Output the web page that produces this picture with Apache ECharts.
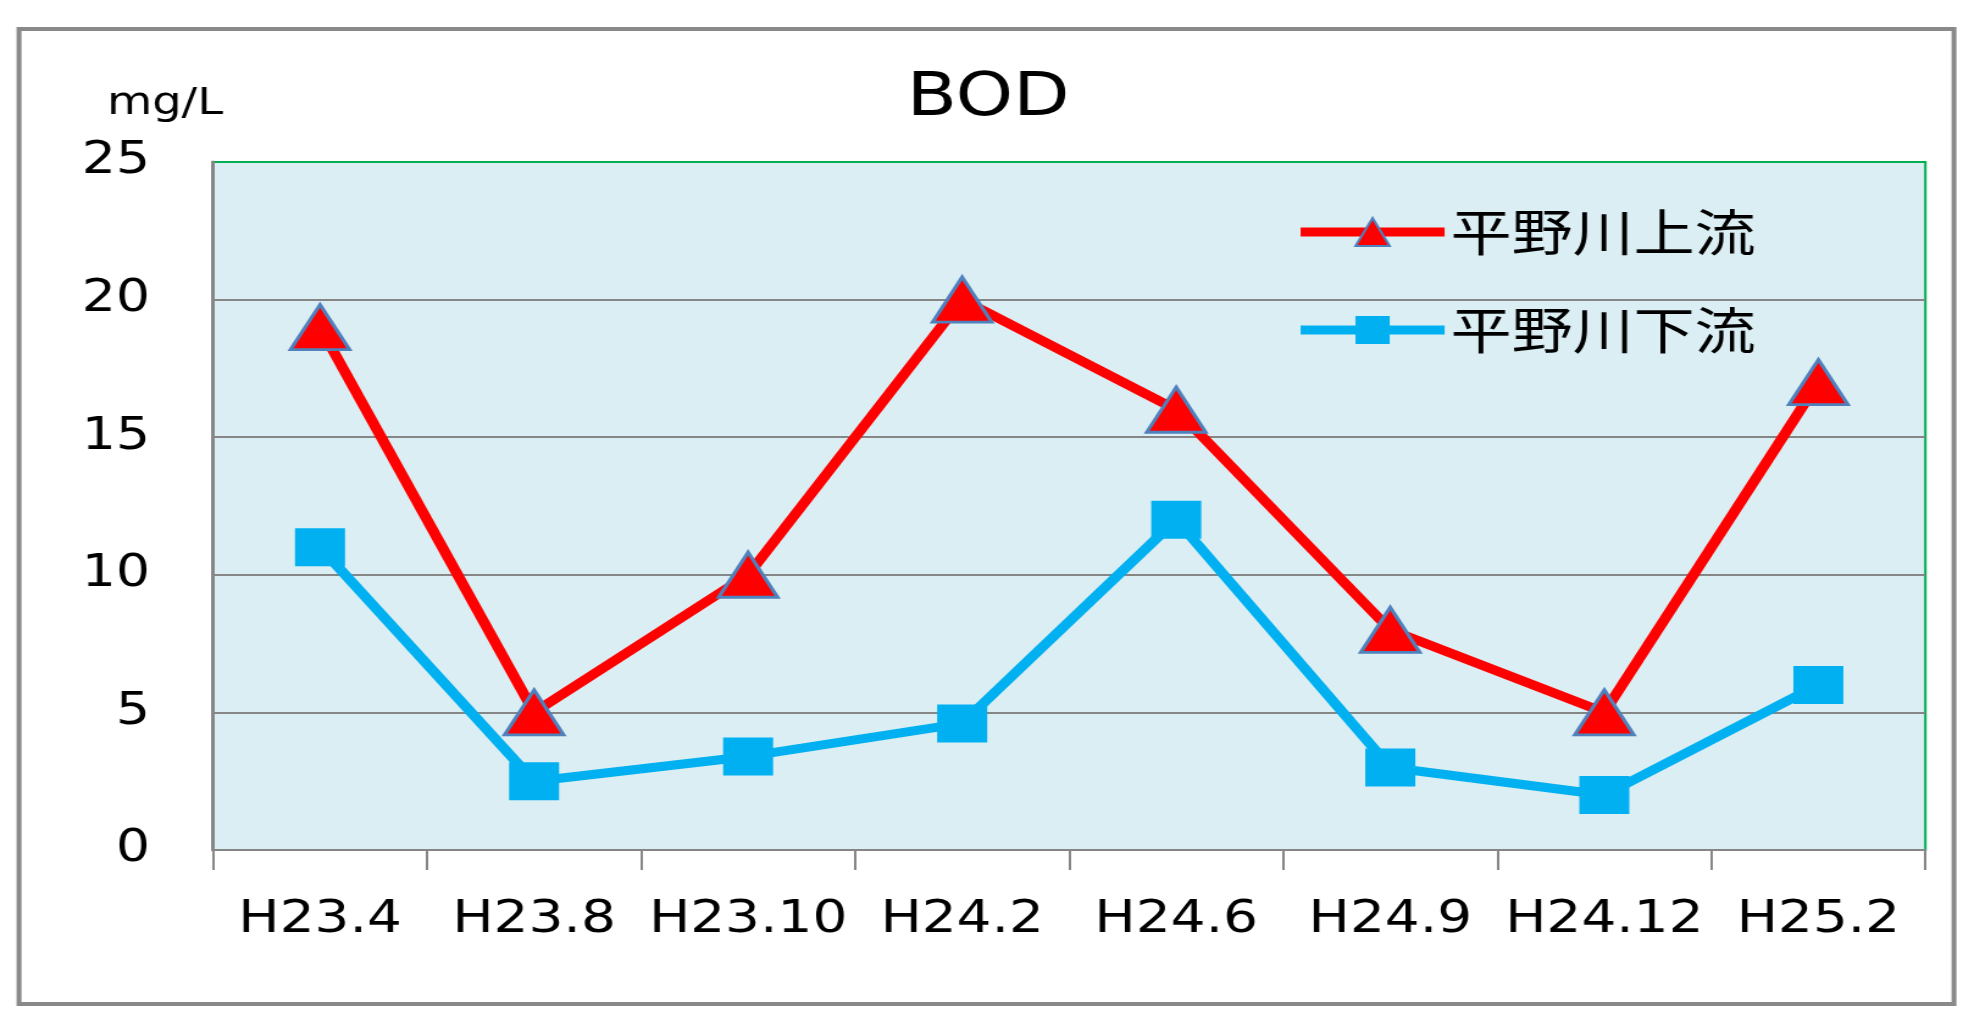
<!DOCTYPE html>
<html>
<head>
<meta charset="utf-8">
<title>BOD</title>
<script src="https://cdn.jsdelivr.net/npm/echarts@6/dist/echarts.min.js"></script>
<style>
  html, body { margin: 0; padding: 0; background: #fff; overflow: hidden; }
  #chart { height: 1018px; transform-origin: 0 0; }
</style>
</head>
<body>
<div id="chart"></div>
<script>
// data
const categories = ['H23.4', 'H23.8', 'H23.10', 'H24.2', 'H24.6', 'H24.9', 'H24.12', 'H25.2'];
const upstreamName = '平野川上流';
const downstreamName = '平野川下流';
const upstream = [19, 5, 10, 20, 16, 8, 5, 17];
const downstream = [11, 2.5, 3.4, 4.6, 12, 3, 2, 6];
const yTicks = [0, 5, 10, 15, 20, 25];

// the original picture is stretched sideways, so draw narrower and scale the box
const S = 1.22;
const W = 1976 / S;
const px = v => v / S;

const dom = document.getElementById('chart');
dom.style.width = W + 'px';
dom.style.transform = 'scaleX(' + S + ')';

const chart = echarts.init(dom, null, { renderer: 'canvas' });

const option = {
  animation: false,
  backgroundColor: '#fff',
  title: {
    text: 'BOD',
    left: 'center',
    top: 64,
    textStyle: { fontFamily: 'DejaVu Sans', fontSize: 60, fontWeight: 'normal', color: '#000' }
  },
  legend: {
    orient: 'vertical',
    left: px(1289),
    top: 202,
    itemWidth: px(144),
    itemHeight: 35,
    itemGap: 48,
    lineStyle: { width: 9 },
    textStyle: { fontFamily: 'Noto Sans CJK JP', fontSize: 50, lineHeight: 50, color: '#000' },
    data: [upstreamName, downstreamName]
  },
  graphic: [
    {
      type: 'rect',
      z: -1,
      shape: { x: px(19), y: 29, width: px(1954 - 19), height: 1004 - 29 },
      style: { fill: 'none', stroke: '#898989', lineWidth: 4 }
    }
  ],
  grid: {
    left: px(213),
    right: px(1976 - 1925),
    top: 162,
    bottom: 1018 - 850,
    show: true,
    backgroundColor: '#DAEEF3',
    borderColor: '#00B050',
    borderWidth: 2
  },
  xAxis: {
    type: 'category',
    data: categories,
    boundaryGap: true,
    axisLine: { lineStyle: { color: '#868686', width: 2 } },
    axisTick: { show: true, interval: 0, length: 20, lineStyle: { color: '#868686', width: 2 } },
    axisLabel: { interval: 0, hideOverlap: false, margin: 48, fontFamily: 'DejaVu Sans', fontSize: 45, color: '#000' },
    splitLine: { show: false }
  },
  yAxis: {
    type: 'value',
    min: yTicks[0],
    max: yTicks[yTicks.length - 1],
    interval: 5,
    name: 'mg/L',
    nameLocation: 'end',
    nameGap: 58,
    nameTextStyle: {
      fontFamily: 'DejaVu Sans', fontSize: 38, color: '#000',
      align: 'center', verticalAlign: 'middle',
      padding: [0, 2 * (px(213) - px(165)), 0, 0]
    },
    axisLine: { show: true, lineStyle: { color: '#868686', width: 3 } },
    axisTick: { show: false },
    axisLabel: { margin: px(213) - px(150), fontFamily: 'DejaVu Sans', fontSize: 44, color: '#000' },
    splitLine: { show: true, showMinLine: false, showMaxLine: false, lineStyle: { color: '#868686', width: 2 } }
  },
  series: [
    {
      name: upstreamName,
      type: 'line',
      data: upstream,
      symbol: 'triangle',
      symbolSize: [px(59), 45],
      lineStyle: { color: '#FF0000', width: 9 },
      itemStyle: { color: '#FF0000', borderColor: '#4F81BD', borderWidth: 3 },
      z: 3
    },
    {
      name: downstreamName,
      type: 'line',
      data: downstream,
      symbol: 'rect',
      symbolSize: [px(50), 38],
      lineStyle: { color: '#00B0F0', width: 9 },
      itemStyle: { color: '#00B0F0', borderWidth: 0 },
      z: 2
    }
  ]
};

chart.setOption(option);
</script>
</body>
</html>
